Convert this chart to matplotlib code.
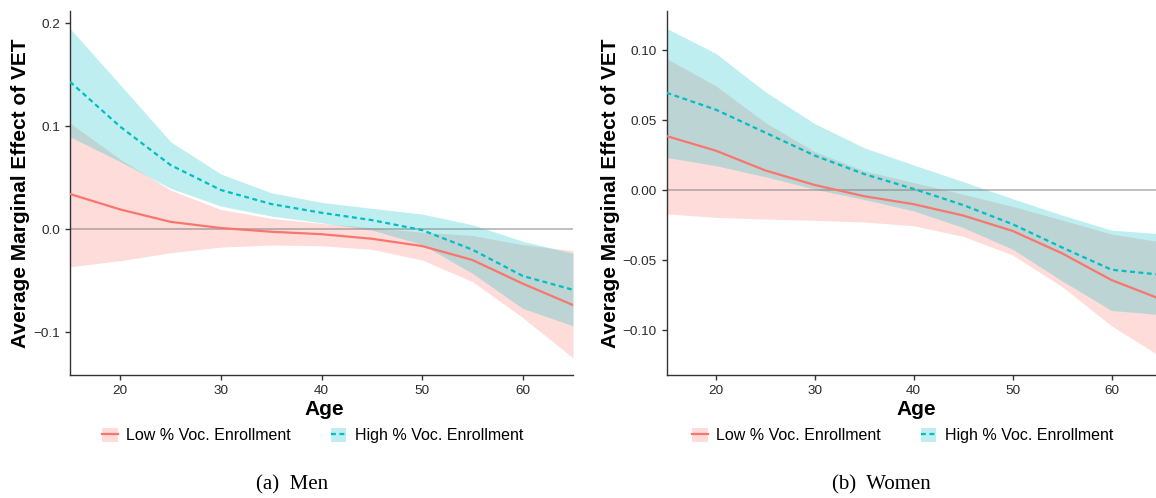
import matplotlib.pyplot as plt
from matplotlib.patches import Patch
from matplotlib.lines import Line2D

plt.rcParams['font.family'] = ['Liberation Sans', 'DejaVu Sans']

age = [15, 20, 25, 30, 35, 40, 45, 50, 55, 60, 65]

# Men
men_low = [0.034, 0.019, 0.007, 0.001, -0.0026, -0.005, -0.0094, -0.0165, -0.030, -0.053, -0.0738]
men_low_lo = [-0.0366, -0.0307, -0.023, -0.0175, -0.0155, -0.0162, -0.0197, -0.030, -0.051, -0.086, -0.125]
men_low_hi = [0.103, 0.0677, 0.0378, 0.019, 0.0104, 0.0055, 0.0013, -0.003, -0.0062, -0.0152, -0.021]
men_high = [0.143, 0.0993, 0.0621, 0.0379, 0.0243, 0.0158, 0.0087, -0.001, -0.020, -0.0455, -0.059]
men_high_lo = [0.0896, 0.0654, 0.0395, 0.0223, 0.0126, 0.0061, -0.001, -0.015, -0.043, -0.077, -0.094]
men_high_hi = [0.1948, 0.140, 0.0848, 0.0534, 0.0353, 0.0259, 0.0201, 0.0146, 0.0042, -0.0118, -0.0236]

# Women
wom_low = [0.0386, 0.0281, 0.014, 0.0036, -0.0044, -0.0101, -0.0182, -0.0292, -0.0452, -0.0643, -0.078]
wom_low_lo = [-0.017, -0.0195, -0.0207, -0.0216, -0.0228, -0.0255, -0.0331, -0.0464, -0.069, -0.097, -0.119]
wom_low_hi = [0.094, 0.0744, 0.0482, 0.0274, 0.0137, 0.0054, -0.003, -0.0117, -0.0214, -0.0314, -0.037]
wom_high = [0.0695, 0.0574, 0.041, 0.0246, 0.0114, 0.0008, -0.0107, -0.0244, -0.041, -0.0569, -0.0605]
wom_high_lo = [0.0233, 0.0174, 0.0095, 0.0006, -0.0068, -0.0149, -0.0268, -0.0423, -0.0649, -0.086, -0.089]
wom_high_hi = [0.1155, 0.0976, 0.0702, 0.0474, 0.0302, 0.0179, 0.006, -0.0062, -0.0179, -0.0286, -0.0312]

men_yticks = [-0.1, 0.0, 0.1, 0.2]
men_ylabels = ['\u22120.1', '0.0', '0.1', '0.2']
wom_yticks = [-0.10, -0.05, 0.00, 0.05, 0.10]
wom_ylabels = ['\u22120.10', '\u22120.05', '0.00', '0.05', '0.10']
xticks = [20, 30, 40, 50, 60]
legend_names = ['Low % Voc. Enrollment', 'High % Voc. Enrollment']
captions = ['(a)  Men', '(b)  Women']

red = '#F8766D'
cyan = '#00BFC4'
dash = (0, (2.2, 1.6))

fig = plt.figure(figsize=(11.56, 4.98), dpi=100)
ax1 = fig.add_axes([70/1156, 123/498, 503/1156, 364/498])
ax2 = fig.add_axes([666.5/1156, 123/498, 494.5/1156, 364/498])


def panel(ax, low, low_lo, low_hi, high, high_lo, high_hi, ylim, yticks, ylabels, ylab_x, leg_x):
    ax.fill_between(age, low_lo, low_hi, color=red, alpha=0.25, linewidth=0)
    ax.fill_between(age, high_lo, high_hi, color=cyan, alpha=0.25, linewidth=0)
    ax.axhline(0, color='grey', alpha=0.5, linewidth=1.4, zorder=2)
    ax.plot(age, low, color=red, linewidth=1.6, zorder=3)
    ax.plot(age, high, color=cyan, linewidth=1.6, linestyle=dash, zorder=3)

    ax.set_xlim(15, 65)
    ax.set_ylim(ylim)
    ax.set_xticks(xticks)
    ax.set_yticks(yticks)
    ax.set_yticklabels(ylabels)
    ax.tick_params(labelsize=9.7, labelcolor='#2b2b2b', color='#333333', length=3.5, width=1)
    for s in ['top', 'right']:
        ax.spines[s].set_visible(False)
    for s in ['left', 'bottom']:
        ax.spines[s].set_color('#333333')
        ax.spines[s].set_linewidth(1.0)

    ax.set_xlabel('Age', fontsize=15, fontweight='bold')
    ax.set_ylabel('Average Marginal Effect of VET', fontsize=15, fontweight='bold')
    ax.xaxis.set_label_coords(0.505, -0.068)
    ax.yaxis.set_label_coords(ylab_x, 0.5)

    handles = [(Patch(facecolor=red, alpha=0.25, linewidth=0), Line2D([], [], color=red, linewidth=1.6)),
               (Patch(facecolor=cyan, alpha=0.25, linewidth=0),
                Line2D([], [], color=cyan, linewidth=1.6, linestyle=dash))]
    ax.legend(handles, legend_names, loc='center', bbox_to_anchor=(leg_x, -0.166), ncol=2,
              frameon=False, fontsize=11.5, handlelength=0.95, handleheight=0.95,
              handletextpad=0.55, columnspacing=2.5, borderpad=0)


panel(ax1, men_low, men_low_lo, men_low_hi, men_high, men_high_lo, men_high_hi,
      (-0.1417, 0.2117), men_yticks, men_ylabels, -0.079, 0.483)
panel(ax2, wom_low, wom_low_lo, wom_low_hi, wom_high, wom_high_lo, wom_high_hi,
      (-0.1321, 0.1279), wom_yticks, wom_ylabels, -0.095, 0.478)

fig.text(292/1156, 1 - 485/498, captions[0], ha='center', va='center', fontsize=15, family='Liberation Serif')
fig.text(881/1156, 1 - 485/498, captions[1], ha='center', va='center', fontsize=15, family='Liberation Serif')

fig.savefig('out.png', dpi=100)
